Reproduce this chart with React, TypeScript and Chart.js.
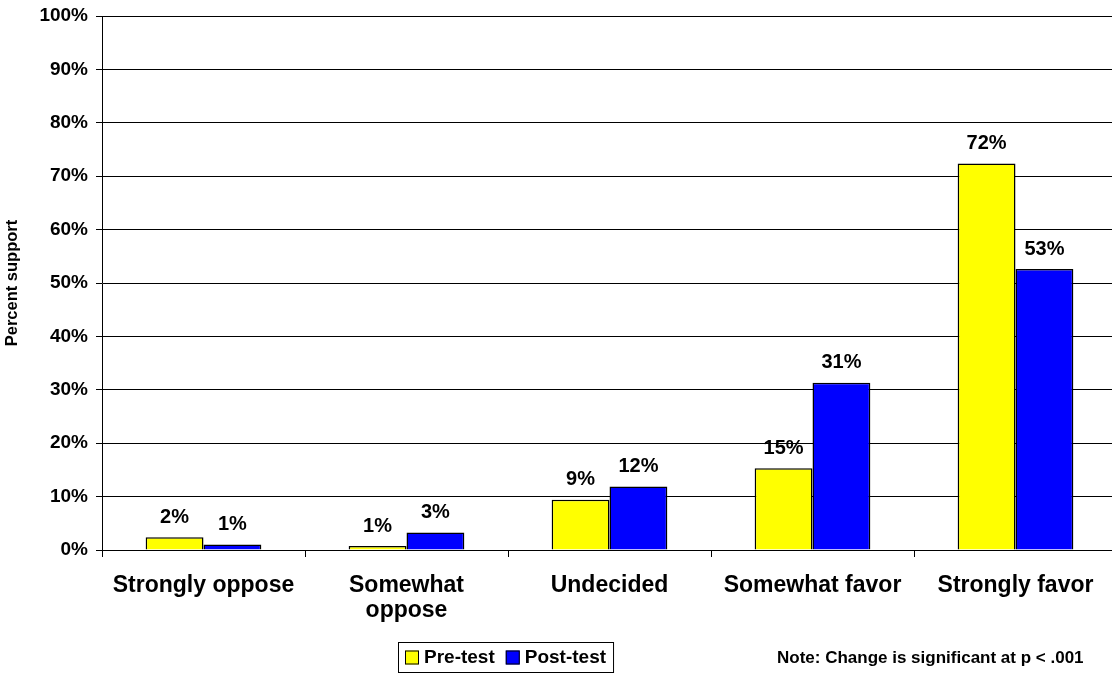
import React, { useEffect, useRef } from "react";
import { Chart, registerables } from "chart.js";

Chart.register(...registerables);

const FONT = '"Liberation Sans", Arial, sans-serif';

const categories: string[][] = [
  ["Strongly oppose"],
  ["Somewhat", "oppose"],
  ["Undecided"],
  ["Somewhat favor"],
  ["Strongly favor"],
];
const seriesNames = ["Pre-test", "Post-test"];
const seriesColors = ["#FFFF00", "#0000FF"];
const preTest = [2.4, 0.75, 9.4, 15.3, 72.4];
const postTest = [1.05, 3.3, 11.9, 31.3, 52.6];
const preLabels = ["2%", "1%", "9%", "15%", "72%"];
const postLabels = ["1%", "3%", "12%", "31%", "53%"];
const yMin = 0;
const yMax = 100;
const yStep = 10;
const yTitle = "Percent support";
const noteText = "Note: Change is significant at p < .001";

const valueLabels = [preLabels, postLabels];

const labelPlugin = {
  id: "valueLabels",
  afterDatasetsDraw(chart: any) {
    const ctx = chart.ctx;
    ctx.save();
    ctx.font = `bold 20px ${FONT}`;
    ctx.fillStyle = "#000";
    ctx.textAlign = "center";
    ctx.textBaseline = "middle";
    chart.data.datasets.forEach((_ds: any, i: number) => {
      const meta = chart.getDatasetMeta(i);
      meta.data.forEach((bar: any, j: number) => {
        ctx.fillText(valueLabels[i][j], bar.x, bar.y - 20);
      });
    });
    ctx.restore();
  },
};

const legendPlugin = {
  id: "customLegend",
  afterDraw(chart: any) {
    const ctx = chart.ctx;
    ctx.save();
    ctx.font = `bold 19px ${FONT}`;
    ctx.textBaseline = "middle";
    ctx.textAlign = "left";
    const left = 398;
    const top = 642;
    const h = 30;
    const cy = top + h / 2 + 0.5;
    let x = left + 7;
    chart.data.datasets.forEach((ds: any, i: number) => {
      ctx.fillStyle = ds.backgroundColor;
      ctx.fillRect(x, cy - 7, 14, 14);
      ctx.strokeStyle = "#000";
      ctx.lineWidth = 1;
      ctx.strokeRect(x + 0.5, cy - 6.5, 13, 13);
      x += 19;
      ctx.fillStyle = "#000";
      ctx.fillText(ds.label, x, cy);
      x += ctx.measureText(ds.label).width;
      if (i < chart.data.datasets.length - 1) x += 11;
    });
    const right = x + 7;
    ctx.strokeStyle = "#000";
    ctx.lineWidth = 1;
    ctx.strokeRect(left + 0.5, top + 0.5, right - left, h);

    ctx.font = `bold 17px ${FONT}`;
    ctx.fillStyle = "#000";
    ctx.fillText(noteText, 777, 658);
    ctx.restore();
  },
};

export default function App() {
  const ref = useRef<HTMLCanvasElement | null>(null);

  useEffect(() => {
    if (!ref.current) return;
    const chart = new Chart(ref.current, {
      type: "bar",
      data: {
        labels: categories as any,
        datasets: [
          {
            label: seriesNames[0],
            data: preTest,
            backgroundColor: seriesColors[0],
            borderColor: "#000",
            borderWidth: 1.5,
          },
          {
            label: seriesNames[1],
            data: postTest,
            backgroundColor: seriesColors[1],
            borderColor: "#000",
            borderWidth: 1.5,
          },
        ],
      },
      options: {
        responsive: false,
        animation: false,
        devicePixelRatio: 1,
        layout: { padding: { top: 16, left: 0, right: 0, bottom: 0 } },
        datasets: {
          bar: { categoryPercentage: 0.57, barPercentage: 1.0 },
        },
        plugins: {
          legend: { display: false },
          tooltip: { enabled: false },
        },
        scales: {
          x: {
            grid: {
              drawOnChartArea: false,
              drawTicks: true,
              tickLength: 7,
              color: "#000",
              offset: true,
            },
            border: { color: "#000", width: 1 },
            ticks: {
              color: "#000",
              font: { family: FONT, size: 23, weight: "bold", lineHeight: 1.09 },
              padding: 16,
              maxRotation: 0,
              autoSkip: false,
            },
            afterFit: (s: any) => {
              s.height = 125;
              s.paddingLeft = 0;
              s.paddingRight = 0;
            },
          },
          y: {
            min: yMin,
            max: yMax,
            grid: { color: "#000", tickLength: 6, lineWidth: 1 },
            border: { color: "#000", width: 1 },
            ticks: {
              stepSize: yStep,
              color: "#000",
              font: { family: FONT, size: 19, weight: "bold" },
              padding: 8,
              callback: (v: any) => `${v}%`,
            },
            title: {
              display: true,
              text: yTitle,
              color: "#000",
              font: { family: FONT, size: 16.5, weight: "bold" },
              padding: { top: 3, bottom: 0 },
            },
            afterFit: (s: any) => {
              s.width = 102;
              s.paddingTop = 0;
              s.paddingBottom = 0;
            },
          },
        },
      } as any,
      plugins: [labelPlugin, legendPlugin],
    });
    return () => chart.destroy();
  }, []);

  return (
    <div
      style={{
        position: "absolute",
        left: 0,
        top: 0,
        width: 1112,
        height: 675,
        overflow: "hidden",
        background: "#fff",
      }}
    >
      <canvas ref={ref} width={1117} height={675} style={{ display: "block" }} />
    </div>
  );
}
